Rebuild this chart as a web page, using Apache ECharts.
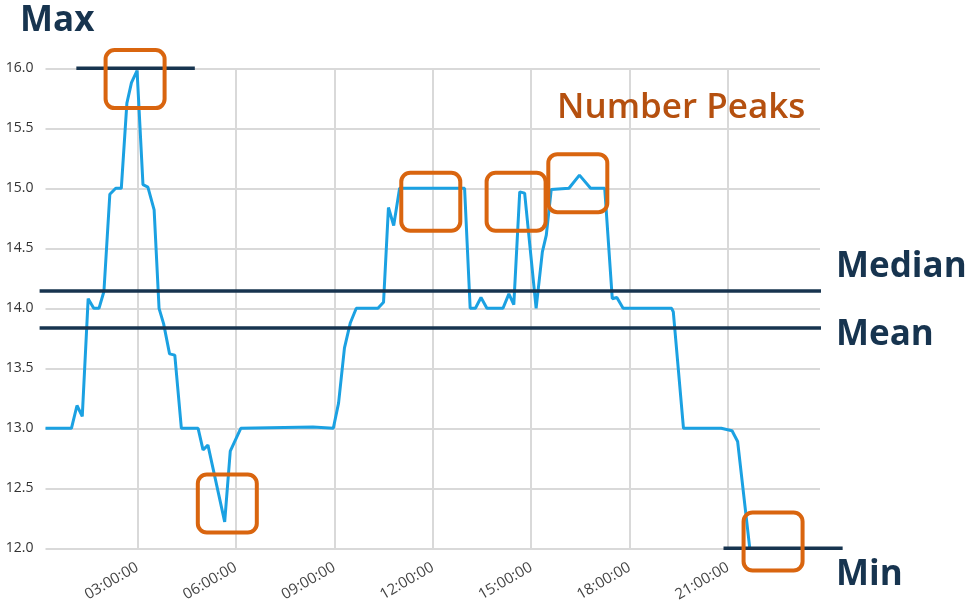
<!DOCTYPE html>
<html>
<head>
<meta charset="utf-8">
<style>
  html, body { margin: 0; padding: 0; background: #fff; }
  #main { width: 967px; height: 608px; }
</style>
<script src="https://cdn.jsdelivr.net/npm/echarts@6/dist/echarts.min.js"></script>
</head>
<body>
<div id="main"></div>
<script>
// hours of the day and value
var hours = [0.2, 0.99, 1.16, 1.32, 1.50, 1.67, 1.83, 1.98, 2.16, 2.34, 2.51, 2.68, 2.82, 2.99,
    3.17, 3.32, 3.51, 3.66, 3.80, 3.98, 4.14, 4.34, 4.85, 5.00, 5.15, 5.66, 5.83, 6.15,
    8.35, 8.97, 9.13, 9.31, 9.49, 9.67, 10.33, 10.50, 10.65, 10.81, 10.99, 12.97, 13.14,
    13.30, 13.47, 13.65, 14.14, 14.32, 14.47, 14.65, 14.80, 15.15, 15.34, 15.46, 15.61,
    16.15, 16.47, 16.81, 17.24, 17.47, 17.61, 17.80, 19.28, 19.33, 19.64, 20.79, 21.12,
    21.29, 21.66];
var values = [13.0, 13.0, 13.19, 13.10, 14.08, 14.0, 14.0, 14.14, 14.95, 15.0, 15.0, 15.71, 15.88, 15.98,
    15.03, 15.01, 14.82, 14.0, 13.87, 13.62, 13.61, 13.0, 13.0, 12.82, 12.86, 12.22, 12.81, 13.0,
    13.01, 13.0, 13.21, 13.67, 13.88, 14.0, 14.0, 14.05, 14.84, 14.69, 15.0, 15.0, 14.0,
    14.0, 14.09, 14.0, 14.0, 14.12, 14.03, 14.97, 14.96, 14.0, 14.47, 14.61, 14.99,
    15.0, 15.11, 15.0, 15.0, 14.08, 14.09, 14.0, 14.0, 13.97, 13.0, 13.0, 12.98,
    12.89, 12.0];

var xTicks = [3, 6, 9, 12, 15, 18, 21];

// reference lines: [fromHour, toHour, value]
var statLines = {
    max: [1.14, 4.75, 16.0],
    median: [0.02, 23.83, 14.145],
    mean: [0.02, 23.83, 13.836],
    min: [20.86, 24.49, 12.0]
};
// peak boxes centred on [hour, value]
var peakBoxes = [[2.93, 15.91], [5.74, 12.373], [11.94, 14.888], [14.54, 14.888], [16.42, 15.043], [22.37, 12.057]];

var navy = '#17344f';
var orange = '#d9650f';

function pad(n) { return (n < 10 ? '0' : '') + n; }

var dom = document.getElementById('main');
var myChart = echarts.init(dom);

var option = {
    animation: false,
    textStyle: { fontFamily: 'Open Sans' },
    grid: { left: 45.5, right: 147, top: 68.3, bottom: 59.7 },
    xAxis: {
        type: 'value',
        min: 0.2,
        max: 23.8,
        axisLine: { show: false },
        axisTick: { show: false, customValues: xTicks },
        axisLabel: {
            customValues: xTicks,
            rotate: 30,
            margin: 18,
            fontSize: 15,
            color: '#444',
            formatter: function (v) { return pad(Math.round(v)) + ':00:00'; }
        },
        splitLine: { show: true, lineStyle: { color: '#d9d9d9', width: 2 } }
    },
    yAxis: {
        type: 'value',
        min: 12,
        max: 16,
        interval: 0.5,
        axisLine: { show: false },
        axisTick: { show: false },
        axisLabel: {
            margin: 12,
            fontSize: 14,
            color: '#333',
            formatter: function (v) { return v.toFixed(1); }
        },
        splitLine: { lineStyle: { color: '#d9d9d9', width: 2 } }
    },
    series: [{
        type: 'line',
        data: hours.map(function (h, i) { return [h, values[i]]; }),
        showSymbol: false,
        lineStyle: { color: '#1ba1e2', width: 3 }
    }]
};
myChart.setOption(option);

function px(h, v) { return myChart.convertToPixel({ gridIndex: 0 }, [h, v]); }

var graphics = [];
Object.keys(statLines).forEach(function (k) {
    var l = statLines[k];
    var a = px(l[0], l[2]), b = px(l[1], l[2]);
    graphics.push({
        type: 'line', z: 10,
        shape: { x1: a[0], y1: a[1], x2: b[0], y2: b[1] },
        style: { stroke: navy, lineWidth: 3.5 }
    });
});
peakBoxes.forEach(function (p) {
    var c = px(p[0], p[1]);
    graphics.push({
        type: 'rect', z: 11,
        shape: { x: c[0] - 29.5, y: c[1] - 29, width: 59, height: 58, r: 9 },
        style: { fill: 'none', stroke: orange, lineWidth: 4 }
    });
});

var labels = [
    ['Max', 20, 21, navy, 'bold 35px'],
    ['Median', 836, 267, navy, 'bold 35px'],
    ['Mean', 836, 335.5, navy, 'bold 35px'],
    ['Min', 836, 575.5, navy, 'bold 35px'],
    ['Number Peaks', 557, 108.5, '#b5500f', '600 35px']
];
labels.forEach(function (t) {
    graphics.push({
        type: 'text', z: 12,
        style: {
            text: t[0], x: t[1], y: t[2],
            fill: t[3],
            font: t[4] + ' "Open Sans"',
            verticalAlign: 'middle', align: 'left'
        }
    });
});

myChart.setOption({ graphic: graphics });
</script>
</body>
</html>
